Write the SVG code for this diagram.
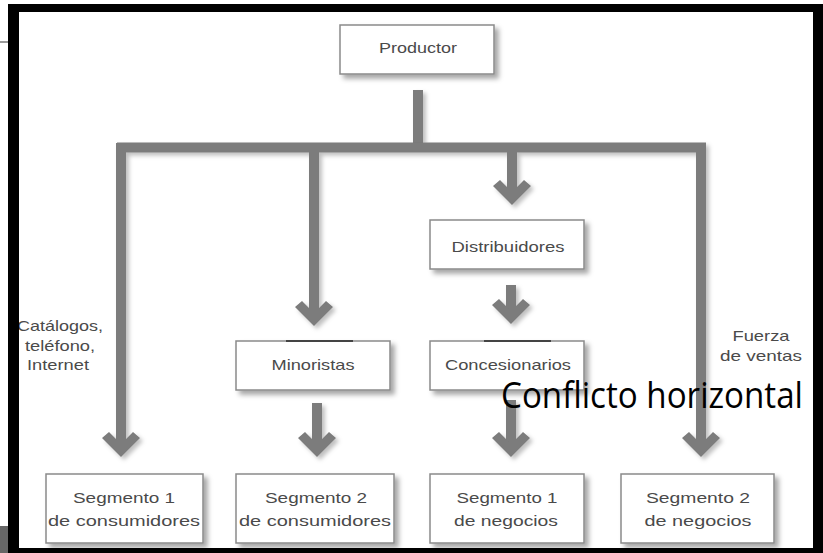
<svg xmlns="http://www.w3.org/2000/svg" width="823" height="553" viewBox="0 0 823 553">
<defs>
<filter id="sh" x="-20%" y="-20%" width="150%" height="150%">
<feDropShadow dx="4" dy="4" stdDeviation="2.5" flood-color="#000" flood-opacity="0.35"/>
</filter>
<filter id="lsh" x="-50%" y="-10%" width="200%" height="130%">
<feDropShadow dx="3" dy="3" stdDeviation="2" flood-color="#000" flood-opacity="0.25"/>
</filter>
</defs>
<style>
.box{fill:#fff;stroke:#8a8a8a;stroke-width:1.5}
.t{font-family:"Liberation Sans",Arial,sans-serif;font-size:15px;fill:#4a4a4a;text-anchor:middle}
.ln{stroke:#7b7b7b;stroke-width:10;fill:none}
.ah{fill:#7b7b7b}
</style>
<rect width="823" height="553" fill="#fff"/>
<line x1="0" y1="42" x2="9" y2="42" stroke="#777" stroke-width="1.5"/>
<rect x="0" y="526" width="9" height="27" fill="#666"/>

<g id="connectors" filter="url(#lsh)">
<line class="ln" x1="418" y1="90" x2="418" y2="148"/>
<line class="ln" x1="117" y1="147.5" x2="706" y2="147.5"/>
<line class="ln" x1="121" y1="143" x2="121" y2="444"/>
<polygon class="ah" points="102,438 109,432 121,444 133,432 140,438 121,457"/>
<line class="ln" x1="314" y1="143" x2="314" y2="313"/>
<polygon class="ah" points="295,307 302,301 314,313 326,301 333,307 314,326"/>
<line class="ln" x1="512" y1="143" x2="512" y2="192"/>
<polygon class="ah" points="493,186 500,180 512,192 524,180 531,186 512,205"/>
<line class="ln" x1="701" y1="143" x2="701" y2="444"/>
<polygon class="ah" points="682,438 689,432 701,444 713,432 720,438 701,457"/>
<line class="ln" x1="511" y1="285" x2="511" y2="311"/>
<polygon class="ah" points="492,305 499,299 511,311 523,299 530,305 511,324"/>
<line class="ln" x1="317" y1="403" x2="317" y2="444"/>
<polygon class="ah" points="298,438 305,432 317,444 329,432 336,438 317,457"/>
<line class="ln" x1="511" y1="400" x2="511" y2="444"/>
<polygon class="ah" points="492,438 499,432 511,444 523,432 530,438 511,457"/>
</g>

<g id="productor"><rect class="box" x="340" y="25" width="154" height="49" filter="url(#sh)"/><text class="t" x="418" y="53" textLength="78" lengthAdjust="spacingAndGlyphs">Productor</text></g>
<g id="distribuidores"><rect class="box" x="430" y="220" width="154" height="49" filter="url(#sh)"/><text class="t" x="508" y="252" textLength="113" lengthAdjust="spacingAndGlyphs">Distribuidores</text></g>
<g id="minoristas"><rect class="box" x="236" y="341" width="154" height="49" filter="url(#sh)"/><line x1="286" y1="341" x2="353" y2="341" stroke="#444" stroke-width="2"/><text class="t" x="313" y="370" textLength="83" lengthAdjust="spacingAndGlyphs">Minoristas</text></g>
<g id="concesionarios"><rect class="box" x="430" y="341" width="154" height="49" filter="url(#sh)"/><line x1="484" y1="341" x2="551" y2="341" stroke="#444" stroke-width="2"/><text class="t" x="508" y="370" textLength="126" lengthAdjust="spacingAndGlyphs">Concesionarios</text></g>

<g id="seg1c"><rect class="box" x="46" y="474" width="157" height="69" filter="url(#sh)"/><text class="t" x="124" y="503" textLength="102" lengthAdjust="spacingAndGlyphs">Segmento 1</text><text class="t" x="124" y="526" textLength="152" lengthAdjust="spacingAndGlyphs">de consumidores</text></g>
<g id="seg2c"><rect class="box" x="236" y="474" width="158" height="69" filter="url(#sh)"/><text class="t" x="316" y="503" textLength="102" lengthAdjust="spacingAndGlyphs">Segmento 2</text><text class="t" x="315" y="526" textLength="152" lengthAdjust="spacingAndGlyphs">de consumidores</text></g>
<g id="seg1n"><rect class="box" x="430" y="474" width="154" height="69" filter="url(#sh)"/><text class="t" x="507" y="503" textLength="101" lengthAdjust="spacingAndGlyphs">Segmento 1</text><text class="t" x="506" y="526" textLength="104" lengthAdjust="spacingAndGlyphs">de negocios</text></g>
<g id="seg2n"><rect class="box" x="621" y="474" width="153" height="69" filter="url(#sh)"/><text class="t" x="698" y="503" textLength="104" lengthAdjust="spacingAndGlyphs">Segmento 2</text><text class="t" x="698" y="526" textLength="107" lengthAdjust="spacingAndGlyphs">de negocios</text></g>

<g id="labels">
<text class="t" x="60" y="331" textLength="86" lengthAdjust="spacingAndGlyphs">Catálogos,</text>
<text class="t" x="60" y="351" textLength="70" lengthAdjust="spacingAndGlyphs">teléfono,</text>
<text class="t" x="58" y="370" textLength="62" lengthAdjust="spacingAndGlyphs">Internet</text>
<text class="t" x="761" y="341" textLength="57" lengthAdjust="spacingAndGlyphs">Fuerza</text>
<text class="t" x="761" y="361" textLength="82" lengthAdjust="spacingAndGlyphs">de ventas</text>
<text x="501" y="408" font-family="'Open Sans','Liberation Sans',sans-serif" font-size="36" fill="#000" textLength="302" lengthAdjust="spacingAndGlyphs">Conflicto horizontal</text>
</g>

<g id="frame" fill="#000">
<rect x="8" y="4" width="815" height="8"/>
<rect x="8" y="4" width="11" height="549"/>
<rect x="813" y="4" width="10" height="549"/>
<rect x="8" y="548" width="815" height="5"/>
</g>
</svg>
